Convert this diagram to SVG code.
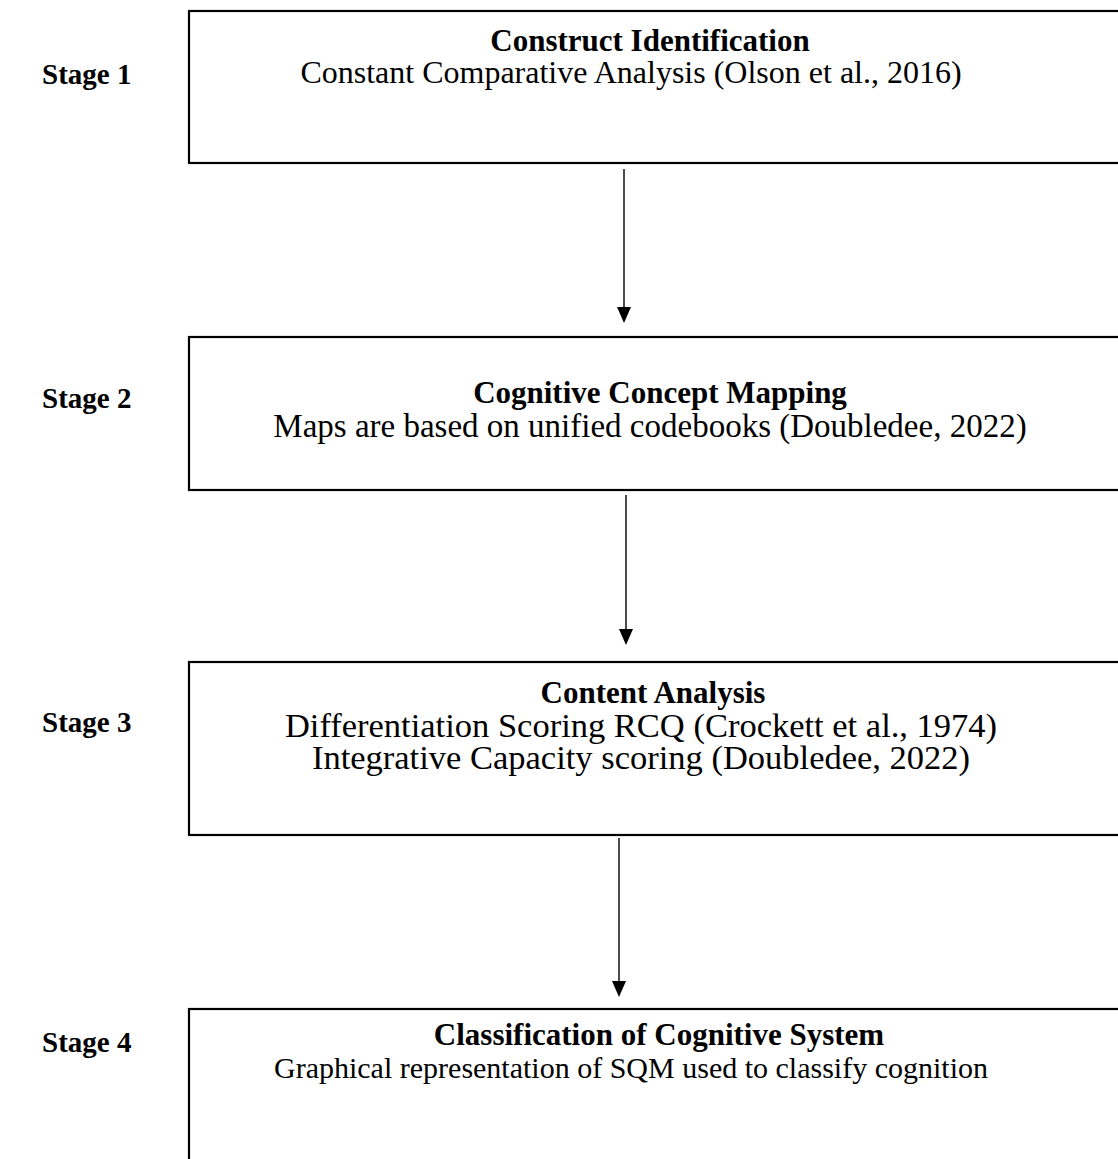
<svg xmlns="http://www.w3.org/2000/svg" width="1118" height="1159" viewBox="0 0 1118 1159">
<defs>
<style>
.box{fill:#fff;stroke:#000;stroke-width:2.2}
.stage{font-family:"Liberation Serif","Times New Roman",serif;font-weight:bold;font-size:29px;fill:#000}
.title{font-family:"Liberation Serif","Times New Roman",serif;font-weight:bold;font-size:31px;fill:#000;text-anchor:middle}
.body{font-family:"Liberation Serif","Times New Roman",serif;font-size:32px;fill:#000;text-anchor:middle}
.conn{stroke:#000;stroke-width:1.4;fill:none}
.head{fill:#000}
</style>
</defs>
<rect width="1118" height="1159" fill="#fff"/>
<g id="stage1">
<text class="stage" x="42" y="84">Stage 1</text>
<rect class="box" x="189" y="11" width="940" height="152"/>
<text class="title" x="650" y="51">Construct Identification</text>
<text class="body" x="631" y="83">Constant Comparative Analysis (Olson et al., 2016)</text>
</g>
<g id="stage2">
<text class="stage" x="42" y="408">Stage 2</text>
<rect class="box" x="189" y="337" width="940" height="153"/>
<text class="title" x="660" y="403">Cognitive Concept Mapping</text>
<text class="body" x="650" y="437" style="font-size:33px">Maps are based on unified codebooks (Doubledee, 2022)</text>
</g>
<g id="stage3">
<text class="stage" x="42" y="732">Stage 3</text>
<rect class="box" x="189" y="662" width="940" height="173"/>
<text class="title" x="653" y="703">Content Analysis</text>
<text class="body" x="641" y="737" style="font-size:34.5px">Differentiation Scoring RCQ (Crockett et al., 1974)</text>
<text class="body" x="641" y="769" style="font-size:34.5px">Integrative Capacity scoring (Doubledee, 2022)</text>
</g>
<g id="stage4">
<text class="stage" x="42" y="1052">Stage 4</text>
<rect class="box" x="189" y="1009" width="940" height="170"/>
<text class="title" x="659" y="1045">Classification of Cognitive System</text>
<text class="body" x="631" y="1078" style="font-size:30px">Graphical representation of SQM used to classify cognition</text>
</g>
<g id="connectors">
<line class="conn" x1="624" y1="169" x2="624" y2="310"/>
<polygon class="head" points="617,307 631,307 624,323"/>
<line class="conn" x1="626" y1="495" x2="626" y2="632"/>
<polygon class="head" points="619,629 633,629 626,645"/>
<line class="conn" x1="619" y1="838" x2="619" y2="984"/>
<polygon class="head" points="612,981 626,981 619,997"/>
</g>
</svg>
